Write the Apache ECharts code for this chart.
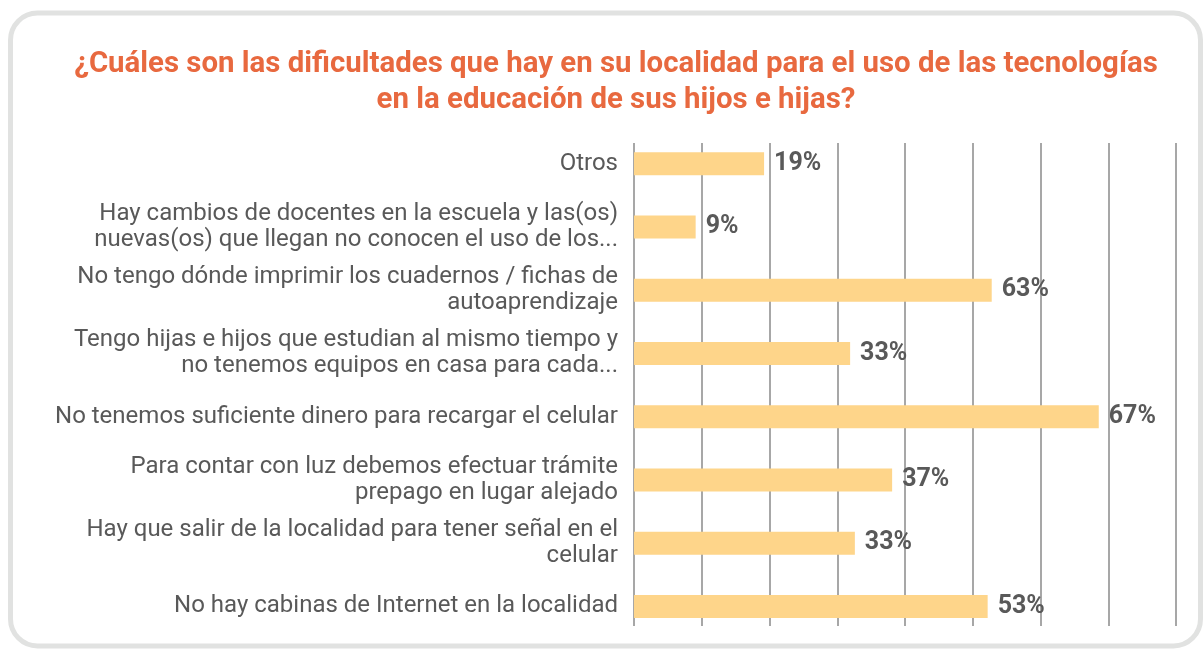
<!DOCTYPE html>
<html><head><meta charset="utf-8">
<script src="https://cdn.jsdelivr.net/npm/echarts@6/dist/echarts.min.js"></script>
<style>html,body{margin:0;padding:0;background:#fff}#c{width:1204px;height:649px}</style>
</head><body><div id="c"></div>
<script>
const titleText = '¿Cuáles son las dificultades que hay en su localidad para el uso de las tecnologías\nen la educación de sus hijos e hijas?';
const categories = [
  'Otros',
  'Hay cambios de docentes en la escuela y las(os)\nnuevas(os) que llegan no conocen el uso de los...',
  'No tengo dónde imprimir los cuadernos / fichas de\nautoaprendizaje',
  'Tengo hijas e hijos que estudian al mismo tiempo y\nno tenemos equipos en casa para cada...',
  'No tenemos suficiente dinero para recargar el celular',
  'Para contar con luz debemos efectuar trámite\nprepago en lugar alejado',
  'Hay que salir de la localidad para tener señal en el\ncelular',
  'No hay cabinas de Internet en la localidad'
];
const barValues = [19.2, 9.1, 52.8, 31.9, 68.6, 38.1, 32.6, 52.2];
const valueLabels = ['19%', '9%', '63%', '33%', '67%', '37%', '33%', '53%'];
const axisMin = 0, axisMax = 80, axisInterval = 10;

const chart = echarts.init(document.getElementById('c'), null, {renderer: 'canvas'});
const FONT = 'Roboto, "Noto Sans", sans-serif';
chart.setOption({
  animation: false,
  backgroundColor: '#fff',
  textStyle: {fontFamily: FONT},
  graphic: [
    {type: 'rect', z: -10, shape: {x: 10.5, y: 13, width: 1190, height: 633, r: 27},
     style: {fill: '#fff', stroke: '#e1e2e1', lineWidth: 5}},
    {type: 'text', x: 616, y: 83, style: {text: titleText, textAlign: 'center', textVerticalAlign: 'middle',
      fill: '#e8693f', font: 'bold 29.4px ' + FONT, lineHeight: 36}}
  ],
  grid: [
    {left: 634, right: 28, top: 132, height: 506},
    {left: 634, right: 28, top: 143, height: 483}
  ],
  xAxis: [
    {gridIndex: 0, type: 'value', min: axisMin, max: axisMax, interval: axisInterval, show: false},
    {gridIndex: 1, type: 'value', min: axisMin, max: axisMax, interval: axisInterval,
     axisLabel: {show: false}, axisLine: {show: false}, axisTick: {show: false},
     splitLine: {show: true, lineStyle: {color: '#8a8a8a', width: 1.5}}}
  ],
  yAxis: [
    {gridIndex: 0, type: 'category', inverse: true, data: categories,
     axisLine: {show: false}, axisTick: {show: false},
     axisLabel: {fontSize: 24, color: '#595959', lineHeight: 26, margin: 16, fontFamily: FONT, align: 'right'}},
    {gridIndex: 1, type: 'value', show: false}
  ],
  series: [{
    type: 'bar', xAxisIndex: 0, yAxisIndex: 0, data: barValues, barWidth: 23,
    itemStyle: {color: '#fed58a'},
    label: {show: true, position: 'right', distance: 10, fontSize: 25, fontWeight: 'bold', color: '#595959',
      fontFamily: FONT, formatter: p => valueLabels[p.dataIndex]}
  }]
});
</script></body></html>
